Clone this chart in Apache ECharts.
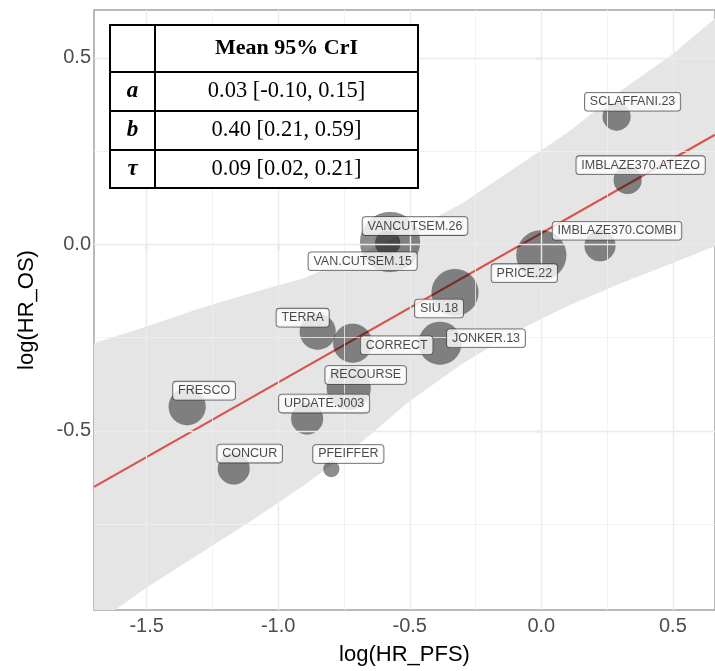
<!DOCTYPE html>
<html>
<head>
<meta charset="utf-8">
<script src="https://cdn.jsdelivr.net/npm/echarts@6/dist/echarts.min.js"></script>
<style>
  html, body { margin: 0; padding: 0; background: #ffffff; }
  #chart { width: 715px; height: 671px; }
</style>
</head>
<body>
<div id="chart"></div>
<script>
// Trial-level surrogate data: log hazard ratios for PFS and OS
const studyNames = [
  'SCLAFFANI.23', 'IMBLAZE370.ATEZO', 'IMBLAZE370.COMBI', 'PRICE.22', 'SIU.18',
  'JONKER.13', 'CORRECT', 'TERRA', 'VANCUTSEM.26', 'VAN.CUTSEM.15',
  'RECOURSE', 'FRESCO', 'UPDATE.J003', 'CONCUR', 'PFEIFFER'
];
const logHrPfs = [0.286, 0.328, 0.223, 0.000, -0.328, -0.385, -0.717, -0.850, -0.575, -0.584, -0.732, -1.346, -0.890, -1.169, -0.798];
const logHrOs  = [0.342, 0.172, -0.004, -0.029, -0.129, -0.265, -0.265, -0.234, 0.006, 0.003, -0.385, -0.435, -0.467, -0.601, -0.602];
const studyWeight = [7.8, 7.8, 9.6, 25, 22, 18.5, 15.2, 13, 36, 6.3, 19.4, 13.7, 10.2, 10.2, 2.6];

// 95% prediction band around the fitted line
const bandX     = [-1.70, -1.50, -1.30, -1.10, -0.90, -0.70, -0.50, -0.30, -0.10, 0.10, 0.30, 0.50, 0.66];
const bandLower = [-1.02, -0.92, -0.83, -0.74, -0.645, -0.54, -0.42, -0.32, -0.235, -0.165, -0.105, -0.05, -0.005];
const bandUpper = [-0.265, -0.22, -0.172, -0.13, -0.09, -0.03, 0.035, 0.11, 0.205, 0.30, 0.41, 0.51, 0.605];

// Posterior summaries (mean and 95% credible interval)
const paramNames = ['a', 'b', 'τ'];
const paramMean  = [0.03, 0.40, 0.09];
const paramLow   = [-0.10, 0.21, 0.02];
const paramHigh  = [0.15, 0.59, 0.21];

const xTicks = [-1.5, -1.0, -0.5, 0.0, 0.5];
const yTicks = [-0.5, 0.0, 0.5];
const xMinor = [-1.25, -0.75, -0.25, 0.25];
const yMinor = [-0.75, -0.25, 0.25];

const X_MIN = -1.70, X_MAX = 0.66, Y_MIN = -0.98, Y_MAX = 0.628;

// label nudges (px) for each study tag
const labelNudge = {
  'SCLAFFANI.23': [16, -15], 'IMBLAZE370.ATEZO': [13, -15], 'IMBLAZE370.COMBI': [17, -15],
  'PRICE.22': [-17, 18], 'SIU.18': [-16, 16], 'JONKER.13': [46, -5], 'CORRECT': [44, 2],
  'TERRA': [-15, -14], 'VANCUTSEM.26': [25, -16], 'VAN.CUTSEM.15': [-25, 18],
  'RECOURSE': [17, -13], 'FRESCO': [17, -16], 'UPDATE.J003': [17, -15],
  'CONCUR': [16, -15], 'PFEIFFER': [17, -15]
};

const chart = echarts.init(document.getElementById('chart'), null, { renderer: 'canvas' });

const points = studyNames.map((n, i) => ({
  name: n,
  value: [logHrPfs[i], logHrOs[i], studyWeight[i]]
}));
const tagged = studyNames.map((n, i) => ({
  name: n,
  value: [logHrPfs[i], logHrOs[i], studyWeight[i]],
  label: { offset: labelNudge[n] }
}));

const bandData = bandX.map((x, i) => [x, bandLower[i], bandUpper[i]]);
const fitLine = [X_MIN, X_MAX].map(x => [x, paramMean[0] + paramMean[1] * x]);

const gridMajor = { color: '#ebebeb', width: 1.4, type: 'solid' };
const gridMinor = { color: '#f0f0f0', width: 0.8, type: 'solid' };

const fmt = v => v.toFixed(2);
const tableRows = paramNames.map((p, i) => `${fmt(paramMean[i])} [${fmt(paramLow[i])}, ${fmt(paramHigh[i])}]`);

// table geometry
const T = { x: 110, y: 25, w: 308, c1: 45, rows: [47, 39, 39, 38] };
const tableEls = [];
const rowTops = [];
let acc = T.y;
T.rows.forEach(h => { rowTops.push(acc); acc += h; });
const tH = acc - T.y;
tableEls.push({ type: 'rect', shape: { x: T.x, y: T.y, width: T.w, height: tH },
  style: { fill: '#ffffff', stroke: '#000000', lineWidth: 2 }, z: 100 });
tableEls.push({ type: 'line', shape: { x1: T.x + T.c1, y1: T.y, x2: T.x + T.c1, y2: T.y + tH },
  style: { stroke: '#000000', lineWidth: 2 }, z: 101 });
for (let r = 1; r < T.rows.length; r++) {
  tableEls.push({ type: 'line', shape: { x1: T.x, y1: rowTops[r], x2: T.x + T.w, y2: rowTops[r] },
    style: { stroke: '#000000', lineWidth: 2 }, z: 101 });
}
const col2x = T.x + T.c1 + (T.w - T.c1) / 2;
tableEls.push({ type: 'text', x: col2x, y: rowTops[0] + T.rows[0] / 2, z: 102,
  style: { text: 'Mean 95% CrI', font: 'bold 22px "Liberation Serif"', fill: '#000',
    align: 'center', verticalAlign: 'middle' } });
paramNames.forEach((p, i) => {
  const cy = rowTops[i + 1] + T.rows[i + 1] / 2;
  tableEls.push({ type: 'text', x: T.x + T.c1 / 2, y: cy, z: 102,
    style: { text: p, font: 'italic bold 23px "Liberation Serif"', fill: '#000',
      align: 'center', verticalAlign: 'middle' } });
  tableEls.push({ type: 'text', x: col2x, y: cy, z: 102,
    style: { text: tableRows[i], font: '22.5px "Liberation Serif"', fill: '#000',
      align: 'center', verticalAlign: 'middle' } });
});

const option = {
  animation: false,
  backgroundColor: '#ffffff',
  grid: {
    left: 94, top: 10, right: -2, bottom: 61,
    show: true, borderColor: '#a3a3a3', borderWidth: 1.5, backgroundColor: 'transparent'
  },
  xAxis: {
    type: 'value', min: X_MIN, max: X_MAX,
    name: 'log(HR_PFS)', nameLocation: 'middle', nameGap: 34,
    nameTextStyle: { fontFamily: 'Liberation Sans', fontSize: 22, color: '#000' },
    axisLine: { show: false },
    axisTick: { show: true, customValues: xTicks, length: 5, lineStyle: { color: '#4d4d4d', width: 1.2 } },
    axisLabel: { customValues: xTicks, formatter: v => v.toFixed(1), fontFamily: 'Liberation Sans',
      fontSize: 20, color: '#4d4d4d', margin: 6 },
    splitLine: { show: false }
  },
  yAxis: {
    type: 'value', min: Y_MIN, max: Y_MAX,
    name: 'log(HR_OS)', nameLocation: 'middle', nameGap: 56, nameRotate: 90,
    nameTextStyle: { fontFamily: 'Liberation Sans', fontSize: 22, color: '#000' },
    axisLine: { show: false },
    axisTick: { show: true, customValues: yTicks, length: 5, lineStyle: { color: '#4d4d4d', width: 1.2 } },
    axisLabel: { customValues: yTicks, formatter: v => v.toFixed(1), fontFamily: 'Liberation Sans',
      fontSize: 20, color: '#4d4d4d', margin: 3 },
    splitLine: { show: false }
  },
  series: [
    {
      // prediction band
      type: 'custom',
      clip: true,
      z: 1,
      silent: true,
      data: bandData,
      renderItem: function (params, api) {
        if (params.dataIndex !== 0) return null;
        const pts = [];
        bandData.forEach(d => pts.push(api.coord([d[0], d[2]])));
        for (let i = bandData.length - 1; i >= 0; i--) pts.push(api.coord([bandData[i][0], bandData[i][1]]));
        return { type: 'polygon', shape: { points: pts }, style: { fill: '#e5e5e5', stroke: null } };
      }
    },
    {
      // panel grid lines
      type: 'line', data: [], z: 2, silent: true, symbol: 'none',
      markLine: {
        silent: true, symbol: 'none', label: { show: false }, animation: false,
        data: [
          ...xMinor.map(v => ({ xAxis: v, lineStyle: gridMinor })),
          ...yMinor.map(v => ({ yAxis: v, lineStyle: gridMinor })),
          ...xTicks.map(v => ({ xAxis: v, lineStyle: gridMajor })),
          ...yTicks.map(v => ({ yAxis: v, lineStyle: gridMajor }))
        ]
      }
    },
    {
      // fitted surrogate relationship
      type: 'line', data: fitLine, z: 3, silent: true, symbol: 'none',
      lineStyle: { color: '#d9524c', width: 2.2 }
    },
    {
      // study bubbles, area proportional to weight
      type: 'scatter', z: 4, silent: true,
      data: points,
      symbolSize: v => Math.sqrt(v[2]) * 10,
      itemStyle: { color: 'rgba(0,0,0,0.56)', borderColor: 'rgba(0,0,0,0.15)', borderWidth: 0.6 },
      label: { show: false }
    },
    {
      // study tags, kept above every bubble
      type: 'scatter', z: 6, silent: true,
      data: tagged,
      symbolSize: v => Math.sqrt(v[2]) * 10,
      itemStyle: { color: 'rgba(0,0,0,0)' },
      label: {
        show: true, position: 'inside', formatter: p => p.name,
        fontFamily: 'Liberation Sans', fontSize: 12.5, color: '#1a1a1a', lineHeight: 14,
        backgroundColor: '#ffffff', borderColor: '#3a3a3a', borderWidth: 0.8, borderRadius: 3,
        padding: [2, 5, 2, 5]
      },
      emphasis: { disabled: true }
    }
  ],
  graphic: tableEls
};

chart.setOption(option);
</script>
</body>
</html>
